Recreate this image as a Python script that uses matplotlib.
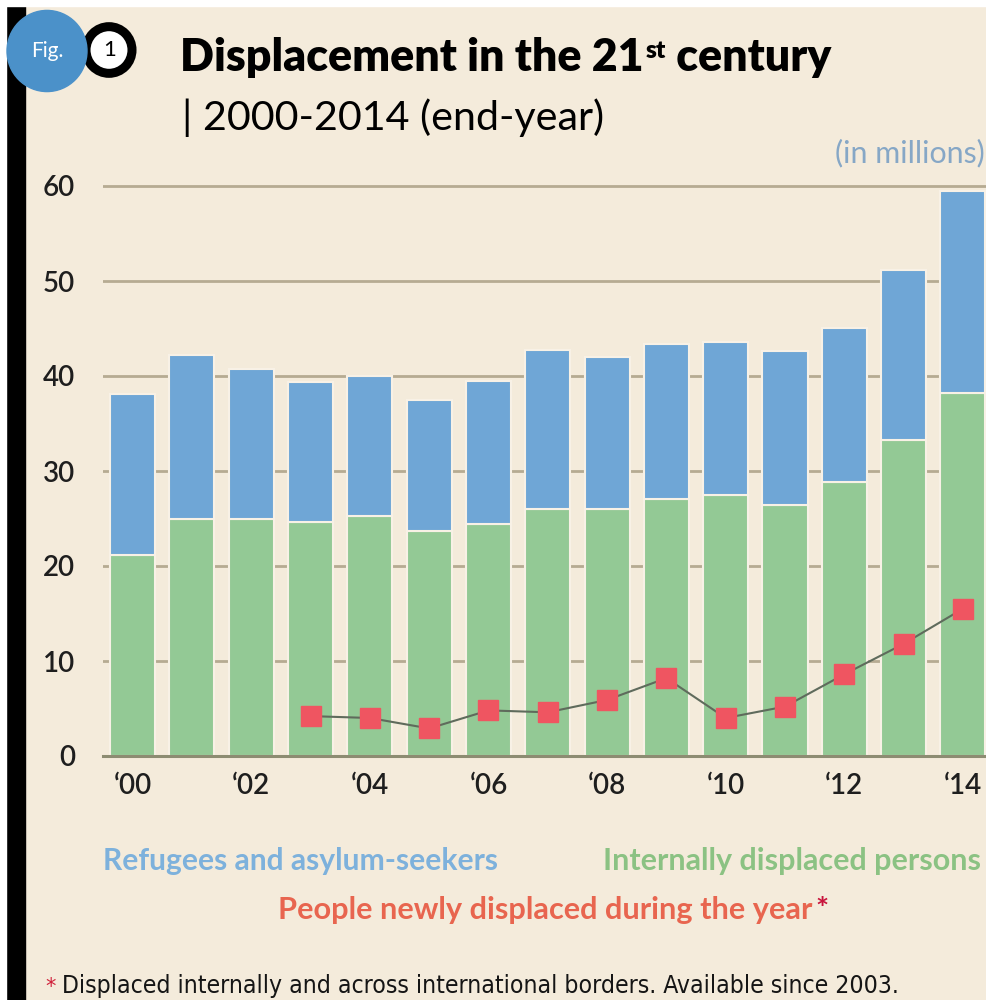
import matplotlib
matplotlib.use("Agg")
import matplotlib.pyplot as plt
from matplotlib.patches import Circle, Rectangle
import numpy as np

years = ["'00", "'01", "'02", "'03", "'04", "'05", "'06", "'07", "'08", "'09", "'10", "'11", "'12", "'13", "'14"]
tick_labels = ["\u201800", "\u201802", "\u201804", "\u201806", "\u201808", "\u201810", "\u201812", "\u201814"]
idps = [21.2, 25.0, 24.9, 24.6, 25.3, 23.7, 24.4, 26.0, 26.0, 27.1, 27.5, 26.4, 28.8, 33.3, 38.2]
totals = [38.1, 42.2, 40.7, 39.4, 40.0, 37.5, 39.5, 42.7, 42.0, 43.4, 43.6, 42.6, 45.1, 51.2, 59.5]
refugees = [t - i for t, i in zip(totals, idps)]
new_years = [3, 4, 5, 6, 7, 8, 9, 10, 11, 12, 13, 14]
newly_displaced = [4.2, 4.0, 2.9, 4.8, 4.6, 5.9, 8.2, 4.0, 5.2, 8.6, 11.8, 15.5]
yticks = [0, 10, 20, 30, 40, 50, 60]

BG = "#f4ebdb"
BLUE = "#6fa6d6"
GREEN = "#93c995"
RED = "#ef5561"
W, H = 986, 1000

fig = plt.figure(figsize=(9.86, 10), dpi=100, facecolor=BG)
renderer = fig.canvas.get_renderer()

def px(x, y):
    return x / W, 1 - y / H

def fit_text(x, y, s, width, **kw):
    t = fig.text(*px(x, y), s, fontsize=10, **kw)
    w = t.get_window_extent(renderer).width
    t.set_fontsize(10 * width / w)
    return t

# axes: x=-0.5 at px 103, 14.39 at px 986; y=0 at px 756
ax_left = 103 / W
ax_bottom = (H - 756) / H
ax_height = 62 * 9.5 / H
ax = fig.add_axes([ax_left, ax_bottom, 1 - ax_left, ax_height])
ax.set_facecolor(BG)
x = np.arange(len(years))
ax.bar(x, idps, width=0.76, color=GREEN, edgecolor="#f8f1e6", linewidth=1.5, zorder=3)
ax.bar(x, refugees, bottom=idps, width=0.76, color=BLUE, edgecolor="#f8f1e6", linewidth=1.5, zorder=3)
ax.plot(new_years, newly_displaced, color="#5f6b5c", lw=1.5, zorder=4)
ax.plot(new_years, newly_displaced, ls="none", marker="s", ms=14.5, color=RED, mec=RED, zorder=5)

ax.set_xlim(-0.5, 14.39)
ax.set_ylim(0, 62)
for y in yticks[1:]:
    ax.axhline(y, color="#b6ab92", lw=2, zorder=1)
ax.axhline(0, color="#8d8c72", lw=2.2, zorder=6, clip_on=False)
for s in ax.spines.values():
    s.set_visible(False)
ax.set_yticks(yticks)
ax.set_yticklabels([str(v) for v in yticks], fontsize=20, fontfamily="Lato", fontweight="semibold", color="#1e1e1e")
ax.set_xticks(x[::2])
ax.set_xticklabels(tick_labels, fontsize=20, fontfamily="Lato", fontweight="semibold", color="#1e1e1e")
ax.tick_params(axis="y", length=0, pad=20)
ax.tick_params(axis="x", length=0, pad=12)

# left black bar and white edges
fig.patches.append(Rectangle(px(6, 1000), 19 / W, 994 / H, transform=fig.transFigure, color="black", zorder=10))
fig.patches.append(Rectangle((0, 0), 6 / W, 1, transform=fig.transFigure, color="white", zorder=10))
fig.patches.append(Rectangle((0, 1 - 6 / H), 1, 6 / H, transform=fig.transFigure, color="white", zorder=10))

# badge
rx, ry = px(109, 50)
fig.patches.append(Circle((rx, ry), 23 / W, transform=fig.transFigure, facecolor="white",
                          edgecolor="black", lw=6.5, zorder=11))
bx, by = px(47, 51)
fig.patches.append(Circle((bx, by), 40 / W, transform=fig.transFigure, color="#4b91c9", zorder=12))
fig.text(bx, by, "Fig.", color="white", fontsize=15, fontfamily="Lato", ha="center", va="center", zorder=13)
fig.text(rx + 1 / W, ry, "1", color="black", fontsize=16, fontfamily="Lato", ha="center", va="center", zorder=13)

# title (three parts, fitted to the reference width)
tkw = dict(fontfamily="Lato", fontweight="heavy", color="black", ha="left", va="baseline")
base_y = 71
t1 = fig.text(*px(180, base_y), "Displacement in the 21", fontsize=10, **tkw)
t2 = fig.text(0, 0, "st", fontsize=10 * 0.55, **tkw)
t3 = fig.text(0, 0, " century", fontsize=10, **tkw)
w1 = t1.get_window_extent(renderer).width
w2 = t2.get_window_extent(renderer).width
w3 = t3.get_window_extent(renderer).width
scale = (838 - 180) / (w1 + w2 + w3 + 2)
fs = 10 * scale
t1.set_fontsize(fs)
t2.set_fontsize(fs * 0.55)
t3.set_fontsize(fs)
bb1 = t1.get_window_extent(renderer)
t2.set_position(((bb1.x1 + 2) / W, 1 - (base_y - 13) / H))
bb2 = t2.get_window_extent(renderer)
t3.set_position((bb2.x1 / W, 1 - base_y / H))

fit_text(182, 130, "| 2000-2014 (end-year)", 423, fontfamily="Lato", fontweight="normal",
         color="black", ha="left", va="baseline")
fit_text(985, 162, "(in millions)", 150, fontfamily="Lato", color="#86a7c6", ha="right", va="baseline")

# legend texts
fit_text(103, 870, "Refugees and asylum-seekers", 397, fontfamily="Lato", fontweight="bold",
         color="#7db1dc", ha="left", va="baseline")
fit_text(603, 870, "Internally displaced persons", 380, fontfamily="Lato",
         fontweight="bold", color="#8bc283", ha="left", va="baseline")
t4 = fit_text(278, 919, "People newly displaced during the year", 537, fontfamily="Lato",
              fontweight="bold", color="#e8654f", ha="left", va="baseline")
bb4 = t4.get_window_extent(renderer)
fig.text((bb4.x1 + 3) / W, 1 - 919 / H, "*", fontsize=t4.get_fontsize(), fontfamily="Lato", fontweight="bold",
         color="#c8143c", ha="left", va="baseline")

fig.text(*px(45, 993), "*", fontsize=15, color="#d0203a", fontfamily="DejaVu Sans", ha="left", va="baseline")
fit_text(62, 993, "Displaced internally and across international borders. Available since 2003.", 838,
         fontfamily="DejaVu Sans", fontstretch="condensed", color="#151515", ha="left", va="baseline")

fig.savefig("out.png", dpi=100, facecolor=BG)
